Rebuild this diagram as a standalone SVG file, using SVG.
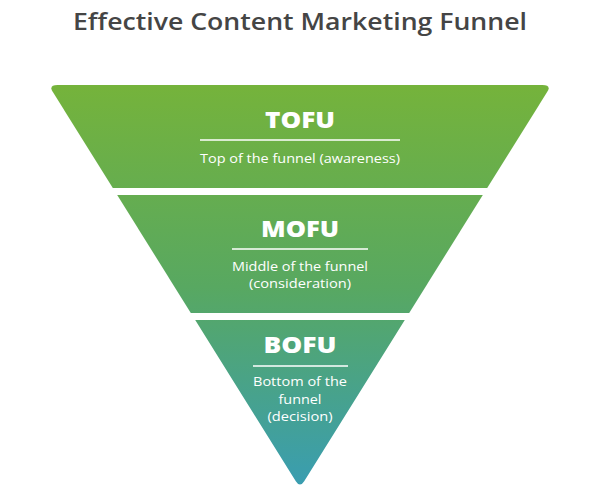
<svg xmlns="http://www.w3.org/2000/svg" width="600" height="501" viewBox="0 0 600 501">
<defs>
<linearGradient id="g" x1="0" y1="85" x2="0" y2="488" gradientUnits="userSpaceOnUse">
<stop offset="0" stop-color="#75b33b"/>
<stop offset="0.5" stop-color="#58a861"/>
<stop offset="1" stop-color="#399db2"/>
</linearGradient>
</defs>
<style>
.band{fill:url(#g);}
.h{font-family:"Open Sans","DejaVu Sans",sans-serif;font-weight:800;font-size:22px;fill:#fff;text-anchor:middle;}
.s{font-family:"Open Sans","DejaVu Sans",sans-serif;font-size:13.5px;fill:#fff;text-anchor:middle;}
.rule{stroke:#fff;stroke-width:1.5;}
.title{font-family:"Open Sans","DejaVu Sans",sans-serif;font-weight:600;font-size:22.5px;fill:#454545;text-anchor:middle;}
</style>
<rect width="600" height="501" fill="#fff"/>
<text class="title" x="300" y="30" textLength="454" lengthAdjust="spacingAndGlyphs">Effective Content Marketing Funnel</text>
<g id="tofu">
<path class="band" d="M57.5,85 L542.5,85 Q551.5,85 547.3,91.8 L487.2,188 L112.8,188 L52.7,91.8 Q48.5,85 57.5,85 Z"/>
<text class="h" x="300" y="128" textLength="70" lengthAdjust="spacingAndGlyphs">TOFU</text>
<line class="rule" x1="200" y1="140" x2="400" y2="140"/>
<text class="s" x="300" y="163" textLength="200" lengthAdjust="spacingAndGlyphs">Top of the funnel (awareness)</text>
</g>
<g id="mofu">
<path class="band" d="M117.2,195 L482.8,195 L409.2,313 L190.8,313 Z"/>
<text class="h" x="300" y="237" textLength="78" lengthAdjust="spacingAndGlyphs">MOFU</text>
<line class="rule" x1="232" y1="249" x2="368" y2="249"/>
<text class="s" x="300" y="271" textLength="136" lengthAdjust="spacingAndGlyphs">Middle of the funnel</text>
<text class="s" x="300" y="288" textLength="102" lengthAdjust="spacingAndGlyphs">(consideration)</text>
</g>
<g id="bofu">
<path class="band" d="M195.2,320 L404.8,320 L304.2,481.2 Q300,488 295.8,481.2 Z"/>
<text class="h" x="300" y="353" textLength="73" lengthAdjust="spacingAndGlyphs">BOFU</text>
<line class="rule" x1="253" y1="366" x2="348" y2="366"/>
<text class="s" x="300" y="386" textLength="94" lengthAdjust="spacingAndGlyphs">Bottom of the</text>
<text class="s" x="300" y="403.5" textLength="43" lengthAdjust="spacingAndGlyphs">funnel</text>
<text class="s" x="300" y="421" textLength="65" lengthAdjust="spacingAndGlyphs">(decision)</text>
</g>
</svg>
